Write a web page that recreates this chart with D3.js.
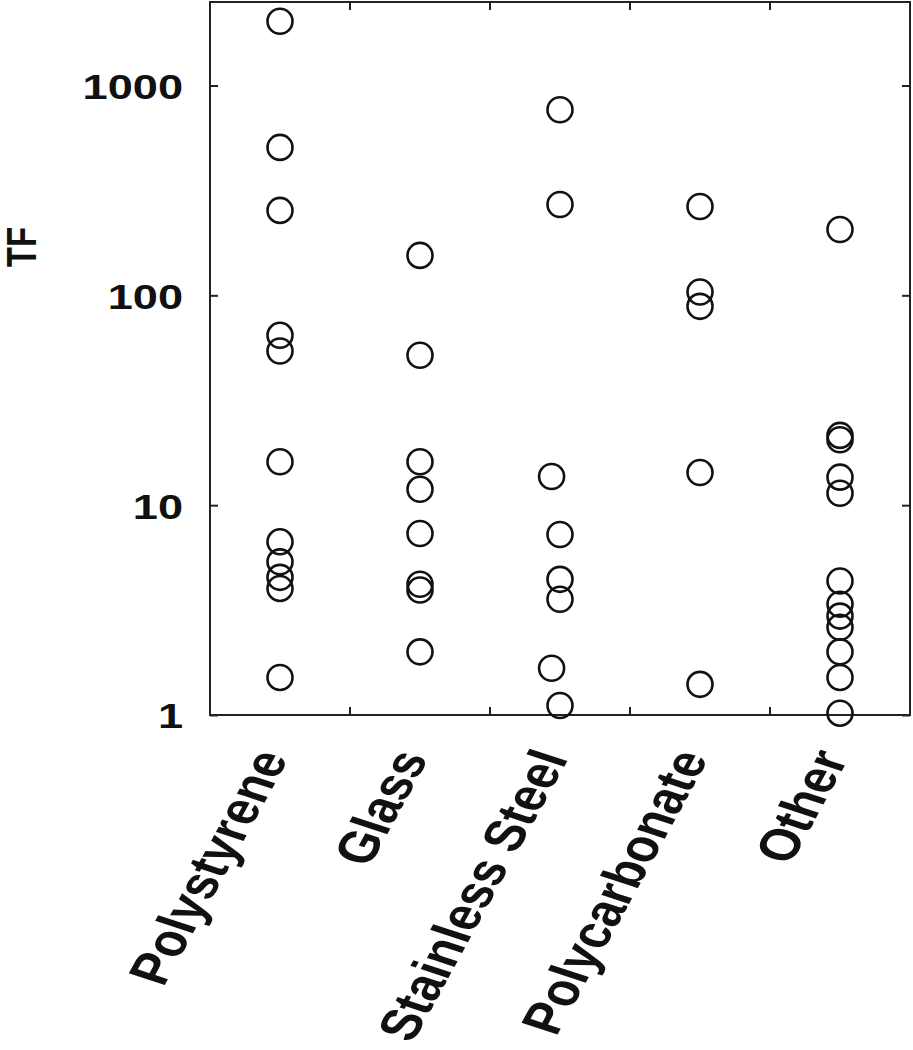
<!DOCTYPE html>
<html>
<head>
<meta charset="utf-8">
<script src="https://cdn.jsdelivr.net/npm/d3@7"></script>
<style>
  html, body { margin: 0; padding: 0; background: #fff; }
  svg { display: block; }
  text { font-family: "Liberation Sans", Arial, sans-serif; font-weight: bold; fill: #111; }
</style>
</head>
<body>
<svg id="chart" width="913" height="1050"></svg>
<script>
// ---- data ----
const categories = ["Polystyrene", "Glass", "Stainless Steel", "Polycarbonate", "Other"];
const polystyrene   = [2024, 507, 254, 64.5, 54.3, 16.1, 6.69, 5.37, 4.53, 4.01, 1.51];
const glass         = [155, 51.8, 16.1, 11.9, 7.33, 4.2, 3.94, 2.0];
const stainless     = [766, 271, 13.7, 7.25, 4.43, 3.56, 1.67, 1.11];
const polycarbonate = [265, 103.7, 88.6, 14.3, 1.40];
const other         = [206, 21.5, 20.5, 13.6, 11.4, 4.35, 3.37, 2.96, 2.62, 2.0, 1.51, 1.02];
// small horizontal jitter (fraction of category width) seen in the source
const stainlessJitter = [0, 0, -0.06, 0, 0, 0, -0.06, 0];
const yTickValues = [1, 10, 100, 1000];
const yTickLabels = ["1", "10", "100", "1000"];
const yLabel = "TF";

const seriesValues = [polystyrene, glass, stainless, polycarbonate, other];
const points = [];
seriesValues.forEach((vals, i) => {
  vals.forEach((v, j) => {
    const jit = (i === 2) ? stainlessJitter[j] : 0;
    points.push({ cat: categories[i], value: v, jitter: jit });
  });
});

// ---- layout ----
const svg = d3.select("#chart");
const L = 210, R = 910, T = 2, B = 715;
const STRETCH = 1.29;

const x = d3.scaleBand().domain(categories).range([L, R]).padding(0);
const y = d3.scaleLog().domain([1, 2500]).range([B, T]);

// frame
svg.append("rect")
  .attr("x", L).attr("y", T).attr("width", R - L).attr("height", B - T)
  .attr("fill", "none").attr("stroke", "#222").attr("stroke-width", 2);

// left axis (inward ticks, stretched labels)
const yAxisL = svg.append("g").attr("transform", `translate(${L},0)`)
  .call(d3.axisLeft(y).tickValues(yTickValues)
    .tickFormat((d, i) => yTickLabels[i]).tickSize(-8).tickPadding(27));
yAxisL.select(".domain").remove();
yAxisL.selectAll(".tick line").attr("stroke", "#222").attr("stroke-width", 2);
yAxisL.selectAll(".tick text")
  .attr("font-size", 35)
  .attr("fill", "#111")
  .attr("x", -27 / STRETCH)
  .attr("dy", "0.37em")
  .attr("transform", `scale(${STRETCH},1)`)
  .style("font-family", "'Liberation Sans', Arial, sans-serif")
  .style("font-weight", "bold");

// right axis ticks
const yAxisR = svg.append("g").attr("transform", `translate(${R},0)`)
  .call(d3.axisRight(y).tickValues(yTickValues).tickFormat("").tickSize(-8));
yAxisR.select(".domain").remove();
yAxisR.selectAll(".tick line").attr("stroke", "#222").attr("stroke-width", 2);

// x boundary ticks on top and bottom
const bounds = categories.slice(1).map(c => x(c));
svg.append("g").selectAll("line.bt").data(bounds).join("line")
  .attr("x1", d => d).attr("x2", d => d).attr("y1", B).attr("y2", B - 8)
  .attr("stroke", "#222").attr("stroke-width", 2);
svg.append("g").selectAll("line.tt").data(bounds).join("line")
  .attr("x1", d => d).attr("x2", d => d).attr("y1", T).attr("y2", T + 8)
  .attr("stroke", "#222").attr("stroke-width", 2);

// y label
svg.append("text")
  .attr("transform", `translate(21,247) scale(${STRETCH},1) rotate(-90)`)
  .attr("text-anchor", "middle")
  .attr("dy", "0.36em")
  .attr("font-size", 33)
  .text(yLabel);

// category labels
svg.append("g").selectAll("text.cat").data(categories).join("text")
  .attr("transform", d => `translate(${x(d) + x.bandwidth() / 2 - 10},752) scale(${STRETCH},1) rotate(-67)`)
  .attr("text-anchor", "end")
  .attr("dy", "0.36em")
  .attr("font-size", 44)
  .text(d => d);

// points
svg.append("g").selectAll("circle").data(points).join("circle")
  .attr("cx", d => x(d.cat) + x.bandwidth() / 2 + d.jitter * x.bandwidth())
  .attr("cy", d => y(d.value))
  .attr("r", 12.5)
  .attr("fill", "none")
  .attr("stroke", "#111")
  .attr("stroke-width", 2.6);
</script>
</body>
</html>
